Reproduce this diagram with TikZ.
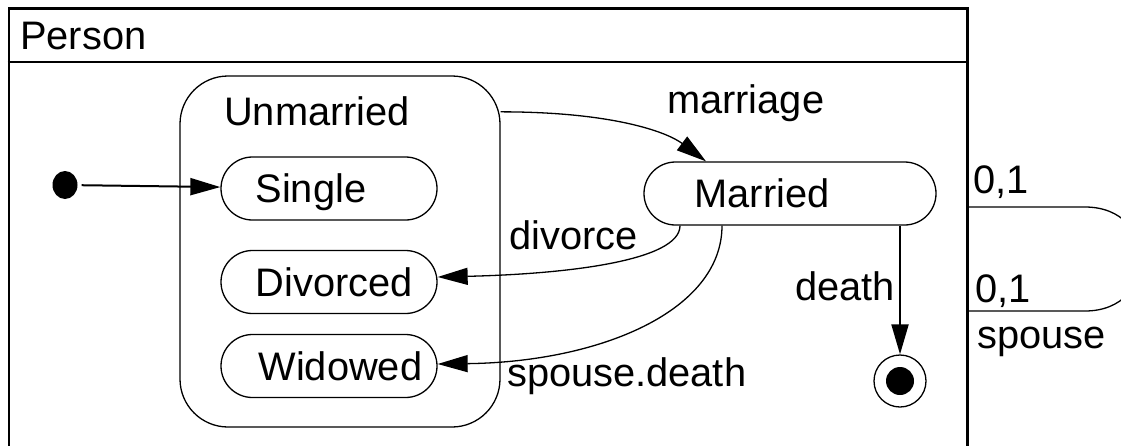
\documentclass[tikz,border=0pt]{standalone}
\usepackage{fontspec}
\setmainfont{Liberation Sans}
\usetikzlibrary{arrows.meta,shapes.geometric}
\begin{document}
\begin{tikzpicture}[x=1pt,y=-1pt,
  font=\fontsize{39.8}{47}\selectfont,
  thinline/.style={line width=1.3pt},
  statebox/.style={draw, line width=1.3pt, rounded corners=31.5pt,
    minimum height=63pt, inner sep=0pt},
  statename/.style={anchor=base west, inner sep=0pt, yshift=-14pt},
  msg/.style={anchor=base west, inner sep=0pt},
  trans/.style={line width=1.3pt, -{Triangle[length=30pt,width=17pt]}},
  strongtrans/.style={line width=2pt, shorten <=4pt,
    -{Triangle[length=30pt,width=17pt]}},
]
\useasboundingbox (0,0) rectangle (1121,445);

% class frame with its name compartment
\node[draw, line width=2.5pt, minimum width=958.5pt, minimum height=460pt,
  inner sep=0pt, anchor=north west] (person) at (7.5,7) {};
\draw[line width=2.5pt] (person.west |- 0,62) -- (person.east |- 0,62);
\node[msg] (personname) at (20,49) {Person};

% composite state
\node[draw, line width=1.3pt, rounded corners=48pt, minimum width=320pt,
  minimum height=351pt, inner sep=0pt] (unmarried) at (340,251.5) {};
\node[msg] (unmarriedname) at (224,125) {Unmarried};

% simple states
\node[statebox, minimum width=216pt,
  label={[statename, xshift=35pt]west:Single}] (single) at (329,188.5) {};
\node[statebox, minimum width=216pt,
  label={[statename, xshift=35pt]west:Divorced}] (divorced) at (329,282) {};
\node[statebox, minimum width=216pt,
  label={[statename, xshift=38pt]west:Widowed}] (widowed) at (329,366) {};
\node[statebox, minimum width=292pt,
  label={[statename, xshift=51pt]west:Married}] (married) at (790,193.5) {};

% pseudo states
\node[ellipse, fill, minimum width=25pt, minimum height=28pt, inner sep=0pt]
  (init) at (65,185) {};
\node[circle, draw, line width=1.3pt, minimum size=52pt, inner sep=0pt]
  (final) at (900,381) {};
\node[circle, fill, minimum size=28pt, inner sep=0pt] (finaldot) at (final) {};

% transitions
\draw[strongtrans] (init) -- (single);
\draw[trans] (unmarried.41) .. controls +(110,0) and +(-40,-30)
  .. ([xshift=-84pt]married.north);
\draw[trans] ([xshift=-110pt]married.south) .. controls +(0,35) and +(130,-3)
  .. ([yshift=5pt]divorced.east);
\draw[trans] ([xshift=-68pt]married.south) .. controls +(0,85) and +(163,-2)
  .. ([yshift=2pt]widowed.east);
\draw[strongtrans, shorten <=0pt] ([xshift=110pt]married.south) -- (final);

\node[msg] (lblmarriage) at (667,113) {marriage};
\node[msg] (lbldivorce) at (509,249) {divorce};
\node[msg] (lblwidow) at (507,386) {spouse.death};
\node[msg] (lbldeath) at (795,300) {death};

% reflexive spouse association
\coordinate (selfa) at (968,207);
\coordinate (selfb) at (968,311);
\draw[thinline] (selfa) -- (1085,207) .. controls (1160,207) and (1160,311)
  .. (1085,311) -- (selfb);
\node[msg] (multa) at (973,193) {0,1};
\node[msg] (multb) at (975,302) {0,1};
\node[msg] (rolename) at (977,348) {spouse};
\end{tikzpicture}
\end{document}
